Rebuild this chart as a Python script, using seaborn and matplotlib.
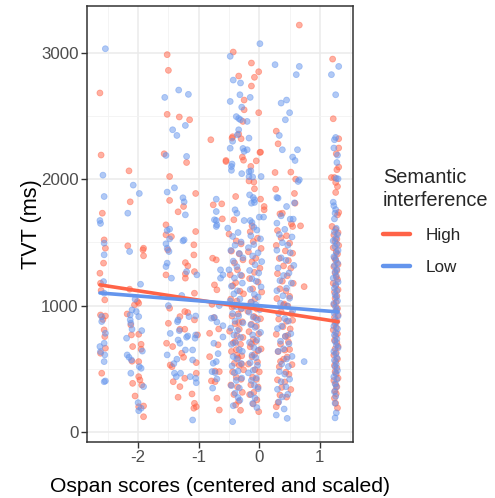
import matplotlib
matplotlib.use("Agg")
import matplotlib.pyplot as plt
import numpy as np
import pandas as pd
import seaborn as sns

# ---------------- data ----------------
# (Ospan score, TVT ms) pairs, grouped by participant column
hi_A = [(-2.63,2682),(-2.61,2191),(-2.59,1731),(-2.56,1520),(-2.54,1454),(-2.57,1336),(-2.63,1256),(-2.62,1177),
        (-2.55,1045),(-2.62,926),(-2.54,918),(-2.56,808),(-2.55,755),(-2.54,663),(-2.62,623),(-2.60,465),(-2.58,890),(-2.61,1120)]
hi_B = [(-2.15,2066),(-2.13,1821),(-2.17,1473),(-1.91,1454),(-1.92,1441),(-1.91,1394),(-2.14,1130),(-2.01,1032),(-1.99,1019),
        (-2.18,934),(-2.12,847),(-2.11,768),(-2.09,676),(-1.95,694),(-1.95,655),(-1.99,773),(-1.99,557),(-1.99,438),(-1.97,412),
        (-1.94,372),(-2.09,385),(-2.05,285),(-1.99,200),(-1.91,206),(-1.91,121),(-2.06,1005),(-2.10,560)]
hi_C = [(-1.52,2985),(-1.50,2861),(-1.52,2513),(-1.57,2201),(-1.48,2021),(-1.48,1832),(-1.54,1639),(-1.45,1546),(-1.54,1560),
        (-1.51,1441),(-1.54,1243),(-1.48,979),(-1.53,702),(-1.43,676),(-1.47,530),(-1.44,517),(-1.42,398),(-1.50,860)]
hi_D = [(-1.32,2492),(-1.15,2470),(-1.20,2132),(-1.05,1887),(-1.25,1784),(-1.34,1742),(-1.05,1586),(-1.08,1481),(-1.08,1401),
        (-1.22,1340),(-1.18,1314),(-1.22,1251),(-1.22,1217),(-1.07,1269),(-1.07,1098),(-1.31,913),(-1.23,953),(-1.18,945),
        (-1.07,887),(-1.31,813),(-1.23,813),(-1.02,768),(-1.28,623),(-1.25,591),(-1.04,549),(-1.23,425),(-1.31,359),(-1.04,465),
        (-1.11,301),(-1.34,275),(-1.07,227),(-1.04,200),(-1.08,188)]
hi_E = [(-0.80,2312),(-0.76,1797),(-0.62,1805),(-0.61,1686),(-0.77,1375),(-0.71,1362),(-0.74,1164),(-0.70,1125),(-0.82,781),
        (-0.67,815),(-0.82,596),(-0.66,478),(-0.73,482),(-0.79,404),(-0.73,398),(-0.70,267),(-0.66,174),(-0.78,1010),(-0.68,690),(-0.75,905)]
hi_F = [(-0.55,2148),(-0.43,3006),(-0.34,2816),(-0.25,2626),(-0.25,2549),(-0.34,2357),(-0.45,2325),(-0.44,2336),(-0.26,2150),
        (-0.28,2175),(-0.55,2140),(-0.39,1863),(-0.42,1679),(-0.27,2457),(-0.30,2320),
        (-0.50,1566),(-0.38,1512),(-0.30,1488),(-0.46,1431),(-0.33,1409),(-0.27,1362),(-0.41,1338),(-0.36,1283),(-0.48,1244),
        (-0.29,1236),(-0.39,1181),(-0.44,1157),(-0.32,1114),(-0.26,1093),(-0.47,1052),(-0.37,1036),(-0.42,996),(-0.30,973),
        (-0.35,934),(-0.45,917),(-0.28,872),(-0.40,856),(-0.33,814),(-0.49,797),(-0.37,763),(-0.27,748),(-0.43,705),(-0.31,694),
        (-0.38,652),(-0.46,637),(-0.29,603),(-0.35,586),(-0.41,544),(-0.33,527),(-0.26,492),(-0.44,476),(-0.38,433),(-0.30,417),
        (-0.47,372),(-0.36,356),(-0.28,314),(-0.42,297),(-0.34,243),(-0.39,214),(-0.31,172),(-0.45,988),(-0.34,866),(-0.40,716),
        (-0.29,538),(-0.37,607)]
hi_G = [(-0.13,2919),(-0.01,2850),(-0.08,2806),(-0.13,2737),(-0.01,2526),(-0.05,2145),(0.01,2212),(-0.17,1986),(-0.14,2101),
        (0.02,2214),(-0.09,1977),(-0.08,1924),(0.02,1842),(0.08,1784),(0.08,1758),(-0.12,1631),
        (-0.15,1584),(-0.03,1533),(-0.10,1507),(0.03,1452),(-0.18,1426),(-0.06,1374),(-0.12,1347),(0.01,1296),(-0.08,1263),
        (-0.16,1214),(-0.02,1186),(-0.11,1133),(0.04,1107),(-0.07,1054),(-0.14,1026),(-0.04,973),(-0.19,956),(-0.09,914),
        (0.02,896),(-0.13,853),(-0.05,836),(-0.17,794),(-0.01,777),(-0.10,733),(-0.06,716),(-0.15,674),(0.03,657),(-0.08,613),
        (-0.12,596),(-0.03,553),(-0.18,537),(-0.07,494),(0.00,476),(-0.11,433),(-0.05,416),(-0.14,374),(-0.02,356),(-0.09,314),
        (-0.16,296),(-0.04,254),(-0.01,161),(-0.10,222),(-0.06,903),(-0.13,697),(-0.02,644)]
hi_H = [(0.66,3219),(0.28,2380),(0.31,2280),(0.26,2053),(0.52,2056),(0.60,2000),(0.27,1921),(0.58,1887),(0.59,1810),
        (0.34,1726),(0.38,1731),(0.53,1647),(0.55,1626),(0.68,1631),(0.74,1150),
        (0.30,1594),(0.45,1553),(0.36,1536),(0.50,1494),(0.28,1476),(0.43,1433),(0.55,1414),(0.33,1373),(0.48,1356),(0.40,1314),
        (0.52,1296),(0.30,1253),(0.46,1236),(0.38,1193),(0.56,1176),(0.34,1133),(0.44,1116),(0.50,1073),(0.29,1056),(0.41,1013),
        (0.47,996),(0.36,953),(0.53,936),(0.32,893),(0.45,876),(0.39,833),(0.51,816),(0.28,773),(0.43,756),(0.48,713),(0.35,696),
        (0.50,653),(0.31,636),(0.46,593),(0.40,576),(0.54,533),(0.33,516),(0.44,473),(0.49,456),(0.30,413),(0.42,396),(0.37,353),
        (0.52,336),(0.34,293),(0.45,276),(0.31,233),(0.28,200),(0.40,1004),(0.47,764),(0.35,558),(0.55,884),(0.42,648)]
hi_I = [(1.21,2950),(1.22,2478),(1.31,2320),(1.31,2247),(1.27,2201),(1.31,2096),(1.28,2075),(1.19,2013),(1.24,2013),
        (1.26,1974),(1.29,1942),(1.26,1895),(1.29,1718),(1.31,1737),(1.20,1626),
        (1.26,1603),(1.30,1577),(1.23,1558),(1.28,1526),(1.25,1509),(1.31,1476),(1.22,1458),(1.27,1427),(1.29,1408),(1.24,1377),
        (1.26,1358),(1.30,1326),(1.23,1308),(1.28,1277),(1.25,1258),(1.27,1226),(1.29,1208),(1.22,1177),(1.26,1158),(1.30,1126),
        (1.24,1108),(1.28,1077),(1.25,1058),(1.27,1026),(1.23,1008),(1.29,977),(1.26,958),(1.30,926),(1.24,908),(1.28,877),
        (1.25,858),(1.27,826),(1.22,808),(1.29,777),(1.26,758),(1.24,726),(1.28,708),(1.30,677),(1.25,658),(1.27,626),(1.23,608),
        (1.29,577),(1.26,558),(1.24,526),(1.28,508),(1.25,477),(1.27,458),(1.30,426),(1.23,408),(1.26,377),(1.28,358),(1.25,326),
        (1.27,303),(1.24,268),(1.26,227),(1.29,190)]

lo_A = [(-2.54,3032),(-2.58,2032),(-2.56,1863),(-2.63,1673),(-2.56,1494),(-2.56,1402),(-2.56,1098),(-2.60,913),(-2.60,874),
        (-2.54,781),(-2.56,702),(-2.63,676),(-2.62,636),(-2.55,610),(-2.56,557),(-2.56,398),(-2.54,404),(-2.62,1650),(-2.57,1190)]
lo_B = [(-2.08,1953),(-1.98,1887),(-2.17,1731),(-2.14,1428),(-1.96,1169),(-2.10,966),(-2.13,926),(-2.13,887),(-2.12,861),
        (-2.10,813),(-2.03,953),(-1.99,913),(-2.19,742),(-1.94,802),(-2.18,610),(-2.15,591),(-2.11,570),(-1.98,517),(-1.95,504),
        (-1.91,359),(-2.12,465),(-2.00,232),(-1.95,188),(-1.99,169),(-2.05,1050),(-1.93,640)]
lo_C = [(-1.56,2647),(-1.43,2391),(-1.54,2188),(-1.52,1898),(-1.40,1932),(-1.48,1605),(-1.52,1594),(-1.48,1528),(-1.54,1489),
        (-1.52,1454),(-1.49,1428),(-1.52,1336),(-1.54,1309),(-1.45,1217),(-1.52,610),(-1.40,465),(-1.37,438),(-1.36,576),
        (-1.41,541),(-1.50,1000),(-1.47,780)]
lo_D = [(-1.33,2705),(-1.17,2671),(-1.22,2425),(-1.36,2346),(-1.20,2180),(-1.26,1853),(-1.24,1821),(-1.22,1718),(-1.24,1520),
        (-1.26,1512),(-1.20,1269),(-1.03,1243),(-1.34,887),(-1.35,873),(-1.16,913),(-1.32,802),(-1.20,750),(-1.18,760),(-1.05,918),
        (-1.05,768),(-1.06,742),(-1.34,728),(-1.31,702),(-1.22,649),(-1.10,649),(-1.10,570),(-1.30,465),(-1.14,438),(-1.05,425),
        (-1.04,390),(-1.10,95),(-1.28,1080)]
lo_E = [(-0.71,1842),(-0.71,1673),(-0.71,1626),(-0.71,1744),(-0.74,1679),(-0.70,1639),(-0.64,1283),(-0.60,1243),(-0.64,1217),
        (-0.79,900),(-0.74,906),(-0.70,870),(-0.60,841),(-0.60,752),(-0.75,702),(-0.71,557),(-0.76,544),(-0.78,478),(-0.73,470),
        (-0.70,420),(-0.77,347),(-0.66,1000),(-0.68,620)]
lo_F = [(-0.48,2972),(-0.43,2784),(-0.31,2761),(-0.32,2668),(-0.48,2615),(-0.29,2570),(-0.38,2495),(-0.34,2480),(-0.31,2470),
        (-0.34,2391),(-0.36,2351),(-0.48,2245),(-0.44,2300),(-0.46,2100),(-0.46,2070),(-0.45,2120),(-0.29,2044),(-0.40,1758),
        (-0.37,1731),(-0.25,1673),(-0.27,2243),(-0.25,2220),
        (-0.52,1613),(-0.35,1578),(-0.44,1547),(-0.30,1503),(-0.40,1478),(-0.47,1437),(-0.33,1413),(-0.27,1378),(-0.43,1352),
        (-0.37,1308),(-0.50,1283),(-0.31,1242),(-0.41,1218),(-0.28,1178),(-0.46,1153),(-0.36,1117),(-0.42,1093),(-0.32,1052),
        (-0.48,1038),(-0.38,992),(-0.29,978),(-0.44,937),(-0.34,918),(-0.40,877),(-0.27,863),(-0.47,822),(-0.36,803),(-0.42,767),
        (-0.31,748),(-0.39,707),(-0.46,693),(-0.33,652),(-0.28,638),(-0.43,597),(-0.37,578),(-0.30,542),(-0.45,523),(-0.35,482),
        (-0.41,468),(-0.29,427),(-0.38,408),(-0.46,367),(-0.33,348),(-0.40,307),(-0.35,272),(-0.43,208),(-0.44,82),(-0.32,252)]
lo_G = [(0.01,3072),(-0.15,2647),(-0.17,2325),(-0.20,2457),(-0.20,2233),(-0.17,2060),(-0.17,2020),(0.03,2021),(-0.14,2066),
        (-0.11,2017),(-0.16,1876),(-0.10,1855),(-0.08,1837),(-0.13,1810),(-0.08,1816),(0.00,1700),(0.07,1700),(-0.15,1673),
        (-0.12,1657),(-0.09,1620),
        (-0.04,1597),(-0.14,1553),(0.02,1528),(-0.09,1483),(-0.18,1458),(-0.02,1418),(-0.11,1393),(0.04,1348),(-0.07,1323),
        (-0.16,1278),(-0.01,1258),(-0.12,1213),(-0.05,1193),(0.03,1148),(-0.15,1128),(-0.08,1088),(-0.02,1068),(-0.13,1028),
        (-0.06,1008),(0.01,968),(-0.17,948),(-0.10,908),(-0.03,888),(-0.14,848),(-0.07,828),(0.02,788),(-0.11,768),(-0.04,728),
        (-0.16,708),(-0.09,668),(-0.01,648),(-0.12,608),(-0.06,588),(-0.15,548),(-0.03,528),(-0.10,488),(-0.18,468),(-0.05,428),
        (-0.13,408),(-0.08,368),(-0.02,343),(-0.14,297),(-0.07,268),(-0.11,226),(-0.04,193)]
lo_H = [(0.26,2906),(0.66,2892),(0.61,2827),(0.36,2602),(0.45,2626),(0.50,2526),(0.43,2470),(0.33,2346),(0.38,2233),
        (0.63,2233),(0.55,2175),(0.59,2148),(0.66,1995),(0.64,1982),(0.31,1850),(0.29,1855),(0.58,1813),(0.45,1784),(0.36,1710),
        (0.51,1684),(0.56,1684),(0.29,1652),(0.74,557),
        (0.42,1603),(0.33,1563),(0.54,1543),(0.38,1498),(0.47,1478),(0.29,1438),(0.51,1418),(0.36,1378),(0.44,1358),(0.57,1318),
        (0.31,1298),(0.49,1258),(0.40,1238),(0.34,1198),(0.53,1178),(0.45,1138),(0.29,1118),(0.39,1078),(0.50,1058),(0.35,1018),
        (0.46,998),(0.55,958),(0.32,938),(0.42,898),(0.48,878),(0.37,838),(0.30,818),(0.52,778),(0.43,758),(0.35,718),(0.49,698),
        (0.40,658),(0.31,638),(0.54,598),(0.45,578),(0.37,538),(0.48,518),(0.33,478),(0.42,458),(0.50,418),(0.36,398),(0.44,358),
        (0.30,338),(0.47,298),(0.38,278),(0.32,238),(0.28,134),(0.46,108),(0.41,182)]
lo_I = [(1.31,2892),(1.19,2827),(1.26,2668),(1.24,2312),(1.23,2247),(1.28,2132),(1.27,2006),(1.30,2003),(1.22,1818),
        (1.23,1790),(1.26,1760),(1.25,1731),(1.24,1686),(1.26,2330),(1.29,2190),
        (1.27,1612),(1.24,1583),(1.29,1562),(1.26,1532),(1.22,1512),(1.28,1487),(1.25,1467),(1.30,1437),(1.27,1417),(1.23,1387),
        (1.26,1367),(1.29,1337),(1.24,1317),(1.28,1287),(1.25,1267),(1.27,1237),(1.22,1217),(1.30,1187),(1.26,1167),(1.24,1137),
        (1.28,1117),(1.25,1087),(1.27,1067),(1.29,1037),(1.23,1017),(1.26,987),(1.28,967),(1.24,937),(1.30,917),(1.25,887),
        (1.27,867),(1.23,837),(1.29,817),(1.26,787),(1.24,767),(1.28,737),(1.25,717),(1.27,687),(1.30,667),(1.23,637),(1.26,617),
        (1.28,587),(1.24,567),(1.27,537),(1.25,517),(1.29,487),(1.26,467),(1.23,437),(1.28,417),(1.25,383),(1.27,357),(1.24,318),
        (1.26,282),(1.25,228),(1.27,152),(1.25,112)]

# fitted regression lines (end points)
fit_x = [-2.63, 1.30]
fit_high = [1164, 873]
fit_low = [1100, 950]

groups = ["High", "Low"]
colors = ["#FF6347", "#6495ED"]
x_ticks = [-2, -1, 0, 1]
y_ticks = [0, 1000, 2000, 3000]

# ---------------- build tables ----------------
hi_pts = hi_A + hi_B + hi_C + hi_D + hi_E + hi_F + hi_G + hi_H + hi_I
lo_pts = lo_A + lo_B + lo_C + lo_D + lo_E + lo_F + lo_G + lo_H + lo_I
pts = pd.DataFrame(hi_pts + lo_pts, columns=["ospan", "tvt"])
pts["cond"] = ["High"] * len(hi_pts) + ["Low"] * len(lo_pts)
fits = pd.DataFrame({
    "ospan": fit_x + fit_x,
    "tvt": fit_high + fit_low,
    "cond": ["High"] * len(fit_x) + ["Low"] * len(fit_x),
})
pal = dict(zip(groups, colors))

# ---------------- plot ----------------
sns.set_theme(style="white")
plt.rcParams["font.family"] = ["Liberation Sans", "DejaVu Sans"]

W, H = 495, 498
fig = plt.figure(figsize=(W / 100, H / 100), dpi=100)
L, R, T, B = 87, 353.3, 6, 442
ax = fig.add_axes([L / W, 1 - B / H, (R - L) / W, (B - T) / H])

sns.scatterplot(data=pts, x="ospan", y="tvt", hue="cond", hue_order=groups, palette=pal,
                s=18, alpha=0.5, linewidth=0.6, edgecolor="face", legend=False, ax=ax, zorder=3)
sns.lineplot(data=fits, x="ospan", y="tvt", hue="cond", hue_order=groups, palette=pal,
             linewidth=2.6, ax=ax, zorder=4)

ax.set_xlim(-2.843, 1.551)
ax.set_ylim(-79, 3370)
ax.set_xticks(x_ticks)
ax.set_xticklabels([f"{v}" for v in x_ticks])
ax.set_yticks(y_ticks)
ax.set_xticks([-2.5, -1.5, -0.5, 0.5, 1.5], minor=True)
ax.set_yticks([500, 1500, 2500], minor=True)
ax.grid(True, which="major", color="#EBEBEB", linewidth=1.1, zorder=0)
ax.grid(True, which="minor", color="#F2F2F2", linewidth=0.6, zorder=0)
ax.set_axisbelow(True)
for s in ax.spines.values():
    s.set_visible(True)
    s.set_color("#333333")
    s.set_linewidth(1.1)
ax.tick_params(which="major", direction="out", length=4, width=1.0, color="#333333",
               labelcolor="#4D4D4D", labelsize=12.2, pad=2, bottom=True, left=True)
ax.tick_params(which="minor", length=0)

ax.set_xlabel("Ospan scores (centered and scaled)", fontsize=15.2, color="black")
ax.set_ylabel("TVT (ms)", fontsize=15.6, color="black")
ax.xaxis.set_label_coords(0.5, (B - 486) / (B - T))
ax.xaxis.label.set_va("center")
ax.yaxis.set_label_coords((32 - L) / (R - L), 0.5)
ax.yaxis.label.set_va("center")

handles, labels = ax.get_legend_handles_labels()
if ax.legend_:
    ax.legend_.remove()
leg = fig.legend(handles, labels, title="Semantic\ninterference", loc="upper left",
                 bbox_to_anchor=(383 / W, 1 - 168 / H), frameon=False, fontsize=12.3,
                 title_fontsize=14.4, handlelength=1.6, handletextpad=0.9, labelspacing=1.0,
                 borderpad=0, borderaxespad=0)
leg._legend_box.align = "left"
leg.get_title().set_linespacing(1.3)
for h in leg.get_lines():
    h.set_linewidth(3.2)

fig.savefig("out.png", dpi=100)
